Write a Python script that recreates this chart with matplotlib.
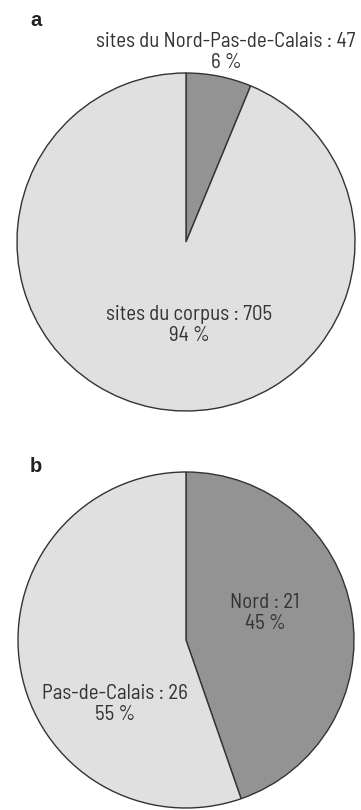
import matplotlib
matplotlib.use("Agg")
import matplotlib.pyplot as plt

plt.rcParams["font.family"] = ["Barlow Semi Condensed", "DejaVu Sans"]

# panel a: Nord-Pas-de-Calais sites within the whole corpus
a_labels = ["sites du Nord-Pas-de-Calais", "sites du corpus"]
a_counts = [47, 705]

# panel b: split between the two departements
b_labels = ["Nord", "Pas-de-Calais"]
b_counts = [21, 26]

colors = ["#939393", "#e0e0e0"]
text_color = "#333333"

W, H = 361, 810


def label_text(name, count, total):
    pct = round(100 * count / total)
    return f"{name} : {count}\n{pct} %"


def draw_pie(ax, counts, center, radius):
    ax.pie(counts, colors=colors, startangle=90, counterclock=False,
           center=center, radius=radius,
           wedgeprops=dict(edgecolor="#333333", linewidth=1.0))


fig = plt.figure(figsize=(W / 100, H / 100), dpi=100)
ax = fig.add_axes([0, 0, 1, 1])

draw_pie(ax, a_counts, (186, H - 242), 169)
draw_pie(ax, b_counts, (186, H - 640), 168)

ax.set_xlim(0, W)
ax.set_ylim(0, H)
ax.set_aspect("equal")
ax.axis("off")

tot_a = sum(a_counts)
tot_b = sum(b_counts)
kw = dict(ha="center", va="center", fontsize=15, color=text_color,
          linespacing=1.15)
ax.text(226, H - 52, label_text(a_labels[0], a_counts[0], tot_a), **kw)
ax.text(189, H - 325, label_text(a_labels[1], a_counts[1], tot_a), **kw)
ax.text(265, H - 613, label_text(b_labels[0], b_counts[0], tot_b), **kw)
ax.text(115, H - 704, label_text(b_labels[1], b_counts[1], tot_b), **kw)

ax.text(36, H - 20, "a", ha="center", va="center", fontsize=14.5,
        fontweight="bold", color="#222222", family="Liberation Sans")
ax.text(36, H - 467, "b", ha="center", va="center", fontsize=14.5,
        fontweight="bold", color="#222222", family="Liberation Sans")

fig.savefig("out.png", dpi=100)
